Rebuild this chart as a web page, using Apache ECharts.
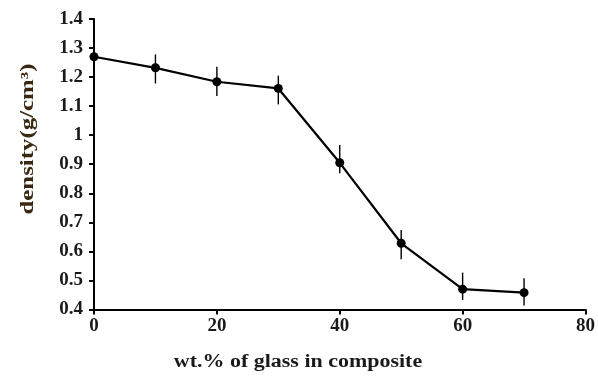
<!DOCTYPE html>
<html>
<head>
<meta charset="utf-8">
<script src="https://cdn.jsdelivr.net/npm/echarts@6/dist/echarts.min.js"></script>
<style>
html,body{margin:0;padding:0;background:#fff;}
#chart{width:598px;height:385px;}
</style>
</head>
<body>
<div id="chart"></div>
<script>
// Data
var glassWt = [0, 10, 20, 30, 40, 50, 60, 70];
var density = [1.27, 1.232, 1.184, 1.161, 0.905, 0.628, 0.470, 0.458];
var errLower = [null, 1.178, 1.135, 1.106, 0.869, 0.573, 0.433, 0.414];
var errUpper = [null, 1.278, 1.236, 1.205, 0.966, 0.674, 0.527, 0.508];
var xTitle = 'wt.% of glass in composite';
var yTitle = 'density(g/cm³)';

var FONT = '"Liberation Serif", "Times New Roman", serif';

var lineData = glassWt.map(function (x, i) { return [x, density[i]]; });
var errData = [];
glassWt.forEach(function (x, i) {
  if (errLower[i] != null) errData.push([x, errLower[i], errUpper[i]]);
});

var chart = echarts.init(document.getElementById('chart'), null, {renderer: 'canvas'});
chart.setOption({
  animation: false,
  backgroundColor: '#ffffff',
  grid: {left: 94, right: 6, top: 19, bottom: 75.5, containLabel: false},
  xAxis: {
    type: 'value', min: 0, max: 80, interval: 20,
    axisLine: {show: true, onZero: false, lineStyle: {color: '#000', width: 2}},
    axisTick: {show: true, length: 5, lineStyle: {color: '#000', width: 2}},
    splitLine: {show: false},
    axisLabel: {color: '#1a1a1a', fontFamily: FONT, fontWeight: 'bold', fontSize: 19, margin: 7}
  },
  yAxis: {
    type: 'value', min: 0.4, max: 1.4, interval: 0.1,
    axisLine: {show: true, onZero: false, lineStyle: {color: '#000', width: 2}},
    axisTick: {show: true, length: 5, lineStyle: {color: '#000', width: 2}},
    splitLine: {show: false},
    axisLabel: {
      color: '#1a1a1a', fontFamily: FONT, fontWeight: 'bold', fontSize: 19, margin: 11,
      formatter: function (v) { return String(+v.toFixed(1)); }
    }
  },
  graphic: [
    {
      type: 'text', x: 298, y: 362, scaleX: 1.22,
      style: {text: xTitle, font: 'bold 18px ' + FONT, fill: '#1a1a1a', textAlign: 'center', textVerticalAlign: 'middle'}
    },
    {
      type: 'text', x: 28, y: 139, rotation: Math.PI / 2, scaleX: 1.38,
      style: {text: yTitle, font: 'bold 18px ' + FONT, fill: '#3a2812', textAlign: 'center', textVerticalAlign: 'middle'}
    }
  ],
  series: [
    {
      type: 'custom',
      z: 1,
      data: errData,
      renderItem: function (params, api) {
        var top = api.coord([api.value(0), api.value(2)]);
        var bot = api.coord([api.value(0), api.value(1)]);
        return {
          type: 'line',
          shape: {x1: top[0], y1: top[1], x2: bot[0], y2: bot[1]},
          style: {stroke: '#000', lineWidth: 1.4}
        };
      }
    },
    {
      type: 'line',
      z: 2,
      data: lineData,
      symbol: 'circle',
      symbolSize: 9,
      lineStyle: {color: '#000', width: 2.2},
      itemStyle: {color: '#000'}
    }
  ]
});
</script>
</body>
</html>
